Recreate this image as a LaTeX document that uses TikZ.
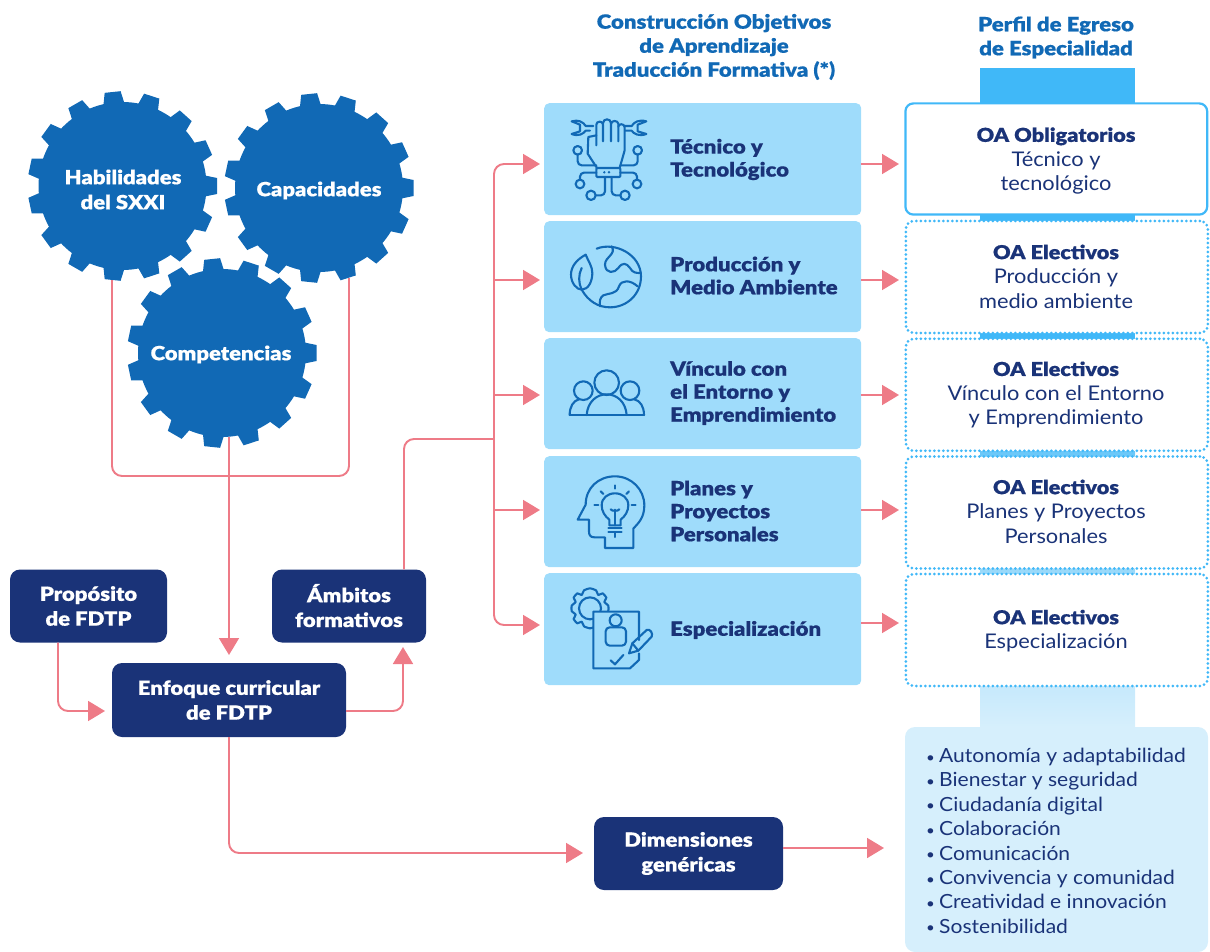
\documentclass[tikz,border=0pt]{standalone}
\usepackage{fontspec}
\setmainfont{Lato}[UprightFeatures={FakeStretch=1.08},BoldFont={Lato Black},BoldFeatures={FakeStretch=1.13,FakeBold=0.5}]
\usetikzlibrary{arrows.meta,calc}
\definecolor{cGear}{HTML}{1169B5}
\definecolor{cNavy}{HTML}{1A3378}
\definecolor{cRow}{HTML}{9FDCFB}
\definecolor{cSky}{HTML}{40B8F8}
\definecolor{cPale}{HTML}{D6EFFC}
\definecolor{cLink}{HTML}{EE7B87}
\tikzset{
  link/.style={draw=cLink,line width=1.9pt,rounded corners=10pt},
  arrow/.style={link,-{Triangle[length=17pt,width=20pt,fill=cLink]}},
  navybox/.style={fill=cNavy,rounded corners=10pt,text=white,align=center,inner sep=0pt,
    font=\fontsize{19.5}{24.8}\selectfont\bfseries},
  gearlabel/.style={text=white,align=center,inner sep=0pt,font=\fontsize{19.5}{25}\selectfont\bfseries},
  rowbox/.style={fill=cRow,rounded corners=5pt,inner sep=0pt,minimum width=317pt,anchor=north west},
  rowlabel/.style={anchor=west,align=left,inner sep=0pt,text=cNavy,font=\fontsize{19.6}{23}\selectfont\bfseries},
  head/.style={align=center,inner sep=0pt,text=cGear,font=\fontsize{19.6}{24}\selectfont\bfseries},
  oasolid/.style={draw=cSky,fill=white,line width=2.2pt,rounded corners=8pt,inner sep=0pt,
    minimum width=301.8pt,anchor=north west},
  oadots/.style={draw=cSky,fill=white,line width=3pt,rounded corners=8pt,inner sep=0pt,
    minimum width=302pt,minimum height=112pt,anchor=north west,line cap=round,dash pattern=on 0pt off 4.5pt},
  oalabel/.style={align=center,inner sep=0pt,text=cNavy,font=\fontsize{20.2}{24.5}\selectfont},
  iconline/.style={draw=cGear,line width=2.1pt,line cap=round,line join=round},
}
\newcommand{\gearshape}[2]{%
  \fill[cGear] (#1,#2) circle[radius=84];
  \foreach \a in {0,24,...,336}{
    \begin{scope}[shift={(#1,#2)},rotate=\a]
      \fill[cGear] (80,-11)--(94.5,-8)--(94.5,8)--(80,11)--cycle;
    \end{scope}}%
}
\newcommand{\bl}{\makebox[13pt][l]{\raisebox{0.5pt}{\fontsize{14}{14}\selectfont\textbullet}}}
\newcommand{\oab}[1]{{\fontsize{19.2}{24.5}\selectfont\bfseries #1}}
\begin{document}
\begin{tikzpicture}[x=1pt,y=-1pt]
\useasboundingbox (0,0) rectangle (1210,952);

% strip behind the right column
\fill[cSky] (980,68) rectangle (1135,340);
\shade[top color=cSky,bottom color=cPale] (980,340) rectangle (1135,727);

% gears
\gearshape{122.5}{186}
\gearshape{319}{188}
\gearshape{222}{353}
\node[gearlabel] (hab) at (123,189.5) {Habilidades\\del SXXI};
\node[gearlabel] (cap) at (319,190.5) {Capacidades};
\node[gearlabel] (com) at (221,354.5) {Competencias};

% navy boxes
\node[navybox,minimum width=157pt,minimum height=73pt] (prop) at (88.5,606) {Propósito\\de FDTP};
\node[navybox,minimum width=154pt,minimum height=73pt] (amb) at (349,606) {\raisebox{1pt}{Ámbitos}\\\raisebox{1pt}{formativos}};
\node[navybox,minimum width=234pt,minimum height=74pt] (enf) at (229,700) {Enfoque curricular\\de FDTP};
\node[navybox,minimum width=189pt,minimum height=73pt] (dim) at (688.5,853.5) {Dimensiones\\genéricas};

% headings
\node[head] (h1) at (714,47) {Construcción Objetivos\\de Aprendizaje\\Traducción Formativa (*)};
\node[head] (h2) at (1056,37.5) {Perfil de Egreso\\de Especialidad};

% rows
\node[rowbox,minimum height=112pt] (r1) at (544,103) {};
\node[rowbox,minimum height=111pt] (r2) at (544,221) {};
\node[rowbox,minimum height=111pt] (r3) at (544,338) {};
\node[rowbox,minimum height=111pt] (r4) at (544,456) {};
\node[rowbox,minimum height=112pt] (r5) at (544,573) {};
\node[rowlabel] (l1) at (670,159.5) {Técnico y\\Tecnológico};
\node[rowlabel] (l2) at (670,275.5) {Producción y\\Medio Ambiente};
\node[rowlabel] (l3) at (670,393) {Vínculo con\\el Entorno y\\Emprendimiento};
\node[rowlabel] (l4) at (670,511) {Planes y\\Proyectos\\Personales};
\node[rowlabel] (l5) at (670,630) {Especialización};

% OA boxes
\node[oasolid,minimum height=111.2pt] (o1) at (904.3,102.3) {};
\node[oadots] (o2) at (904.3,219.5) {};
\node[oadots] (o3) at (904.3,337.3) {};
\node[oadots] (o4) at (904.3,455) {};
\node[oadots] (o5) at (904.3,572.5) {};
\node[oalabel] (t1) at (1056,161) {\oab{OA Obligatorios}\\Técnico y\\tecnológico};
\node[oalabel] (t2) at (1056,276.5) {\oab{OA Electivos}\\Producción y\\medio ambiente};
\node[oalabel] (t3) at (1056,395) {\oab{OA Electivos}\\Vínculo con el Entorno\\y Emprendimiento};
\node[oalabel] (t4) at (1056,511.5) {\oab{OA Electivos}\\Planes y Proyectos\\Personales};
\node[oalabel] (t5) at (1056,631) {\oab{OA Electivos}\\Especialización};

% list
\fill[cPale,rounded corners=10pt] (905,727) rectangle (1208,952);
\node[anchor=west,align=left,inner sep=0pt,text=cNavy,font=\fontsize{19.5}{24.4}\selectfont] (lst) at (926,840.8)
 {\bl Autonomía y adaptabilidad\\\bl Bienestar y seguridad\\\bl Ciudadanía digital\\\bl Colaboración\\\bl Comunicación\\\bl Convivencia y comunidad\\\bl Creatividad e innovación\\\bl Sostenibilidad};

% connector helpers
\coordinate (hs) at (112,280);
\coordinate (cs) at (349,278);
\coordinate (ms) at (229,437);
\coordinate (trunk) at (494,439);
\foreach \n/\y in {1/164,2/280,3/395,4/510,5/625}{\coordinate (a\n) at (540,\y);}
\foreach \n/\y in {1/164,2/280,3/395,4/510,5/623}{\coordinate (b\n) at (861,\y);\coordinate (c\n) at (899,\y);}

% connectors
\draw[link] (hs) -- (112,476) -- (349,476) -- (cs);
\draw[arrow] (ms) -- (229,655);
\draw[arrow] (prop.south -| 58,0) -- (58,711) -- (105,711);
\draw[arrow] (346,711) -- (403,711) -- (403,647);
\draw[link] (amb.north -| 404,0) -- (404,439) -- (trunk);
\draw[arrow] (trunk) -- (494,164) -- (a1);
\draw[arrow] (494,280) -- (a2);
\draw[arrow] (494,395) -- (a3);
\draw[arrow] (494,510) -- (a4);
\draw[arrow] (trunk) -- (494,625) -- (a5);
\foreach \n in {1,...,5}{\draw[arrow] (b\n) -- (c\n);}
\draw[arrow] (enf.south) -- (229,853) -- (583,853);
\draw[arrow] (783,848) -- (884,848);

% icon 1: hand and wrenches
\begin{scope}[shift={(565,112)},x=0.3333pt,y=-0.3333pt,iconline]
  \draw (85,42) -- (62,42) .. controls (55,30) and (40,22) .. (20,28) -- (45,38) -- (45,58) -- (20,66) .. controls (40,74) and (55,66) .. (62,56) -- (75,56);
  \draw (178,42) -- (200,42) .. controls (207,30) and (222,22) .. (244,28) -- (218,38) -- (218,58) -- (244,66) .. controls (222,74) and (207,66) .. (200,56) -- (180,56);
  \draw (94,100) -- (94,38) .. controls (94,26) and (114,26) .. (114,38) -- (114,88);
  \draw (114,34) .. controls (114,18) and (138,18) .. (138,34) -- (138,88);
  \draw (138,36) .. controls (138,24) and (160,24) .. (160,36) -- (160,88);
  \draw (160,44) .. controls (160,34) and (179,34) .. (179,46) -- (179,115) -- (164,168);
  \draw (94,70) -- (70,75) -- (68,125) -- (96,168);
  \draw[rounded corners=1pt] (94,168) rectangle (166,195);
  \fill[cGear] (118,181) circle[radius=4];
  \fill[cGear] (132,181) circle[radius=4];
  \draw (38,115) circle[radius=13];
  \draw (218,115) circle[radius=13];
  \draw (45,216) circle[radius=13];
  \draw (216,216) circle[radius=13];
  \draw (78,250) circle[radius=14];
  \draw (180,250) circle[radius=14];
  \draw[rounded corners=4pt] (38,128) -- (38,160) -- (94,160);
  \draw[rounded corners=4pt] (218,128) -- (218,160) -- (166,160);
  \draw[rounded corners=4pt] (94,182) -- (45,182) -- (45,203);
  \draw[rounded corners=4pt] (166,182) -- (216,182) -- (216,203);
  \draw[rounded corners=4pt] (120,195) -- (120,250) -- (92,250);
  \draw[rounded corners=4pt] (140,195) -- (140,250) -- (166,250);
\end{scope}

% icon 2: globe and leaf
\begin{scope}[shift={(565,238)},x=0.3333pt,y=-0.3333pt,iconline]
  \draw (95,32) .. controls (150,10) and (228,50) .. (228,115) .. controls (228,170) and (185,208) .. (135,208) .. controls (100,208) and (70,190) .. (50,155);
  \draw (140,25) .. controls (155,50) and (120,55) .. (120,80) .. controls (122,110) and (150,105) .. (160,90) .. controls (172,72) and (185,75) .. (195,90) .. controls (203,105) and (215,105) .. (224,105);
  \draw (218,145) .. controls (195,125) and (170,125) .. (162,145) .. controls (155,170) and (130,165) .. (115,172) .. controls (105,178) and (103,190) .. (105,205);
  \draw (62,50) .. controls (35,65) and (18,85) .. (18,110) .. controls (18,135) and (35,155) .. (50,155) .. controls (70,155) and (82,130) .. (82,105) .. controls (82,85) and (70,70) .. (62,50) -- cycle;
  \draw (50,90) .. controls (40,110) and (40,135) .. (50,155);
\end{scope}

% icon 3: people
\begin{scope}[shift={(565,360)},x=0.3333pt,y=-0.3333pt,iconline]
  \draw (125,68) circle[radius=37];
  \draw (55,92) circle[radius=28];
  \draw (195,92) circle[radius=28];
  \draw (65,165) .. controls (68,125) and (95,103) .. (125,103) .. controls (155,103) and (182,125) .. (185,165);
  \draw (14,165) .. controls (14,140) and (25,122) .. (42,118);
  \draw (237,165) .. controls (237,140) and (226,122) .. (208,118);
  \draw (14,165) -- (237,165);
\end{scope}

% icon 4: head and bulb
\begin{scope}[shift={(565,468)},x=0.3333pt,y=-0.3333pt,iconline]
  \draw (205,240) -- (120,240) -- (120,208) -- (88,208) .. controls (75,208) and (72,200) .. (72,190) -- (72,155) -- (38,155) -- (62,110) .. controls (62,60) and (100,25) .. (150,25) .. controls (200,25) and (238,65) .. (238,112) .. controls (238,150) and (220,165) .. (205,182) -- cycle;
  \draw (133,172) -- (133,155) .. controls (120,145) and (110,130) .. (110,112) .. controls (110,90) and (128,76) .. (150,76) .. controls (172,76) and (190,90) .. (190,112) .. controls (190,130) and (180,145) .. (167,155) -- (167,172) -- cycle;
  \draw (150,125) -- (150,172);
  \draw (137,124) .. controls (140,130) and (160,130) .. (163,124);
  \draw (130,181) -- (170,181);
  \draw (130,193) -- (170,193);
  \draw (150,193) -- (150,207);
  \draw (150,52) -- (150,62);
  \draw (107,70) -- (115,78);
  \draw (192,70) -- (184,78);
  \draw (88,112) -- (100,112);
  \draw (200,112) -- (212,112);
\end{scope}

% icon 5: gear, document and pencil
\begin{scope}[shift={(565,585)},x=0.3333pt,y=-0.3333pt,iconline]
  \draw (75,70) circle[radius=33];
  \draw plot[smooth cycle,tension=0.3] coordinates {
    (57,16) (75,10) (93,16) (100,30) (113,25) (124,38) (118,51) (130,62) (130,78)
    (118,89) (124,102) (113,115) (100,110) (93,124) (75,130) (57,124) (50,110) (37,115)
    (26,102) (32,89) (20,78) (20,62) (32,51) (26,38) (37,25) (50,30)};
  \fill[cRow] (85,80) rectangle (222,250);
  \draw (222,165) -- (222,80) -- (85,80) -- (85,250) -- (195,250) -- (222,225) -- (222,205);
  \draw (152,106) circle[radius=18];
  \draw[rounded corners=4pt] (122,182) -- (122,127) -- (183,127) -- (183,182) -- cycle;
  \draw (137,226) -- (150,238) -- (175,210);
  \draw (192,205) -- (202,175) -- (245,135) .. controls (255,130) and (265,145) .. (260,155) -- (220,197) -- cycle;
  \draw (202,175) -- (220,197);
\end{scope}
\end{tikzpicture}
\end{document}
